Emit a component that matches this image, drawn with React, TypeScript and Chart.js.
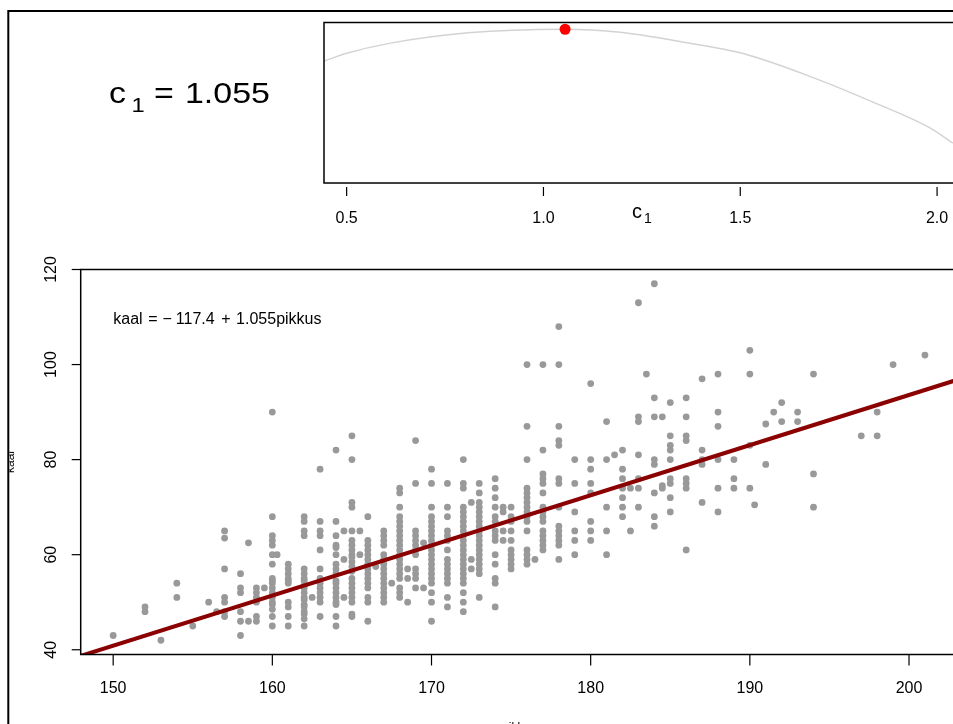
import React, { useEffect, useRef } from "react";
import { Chart, registerables } from "chart.js";

Chart.register(...registerables);

// ---------------- bottom panel data (pikkus = height, kaal = weight) ----------------
const pikkusLevels = [
  150, 152, 153, 154, 155, 156, 156.5, 157, 158, 158.5, 159, 159.5, 160, 160.3, 161, 162,
  162.5, 163, 164, 164.5, 165, 165.5, 166, 166.5, 167, 167.5, 168, 168.5, 169, 169.5, 170,
  171, 172, 172.5, 173, 174, 174.5, 175, 176, 176.5, 177, 178, 179, 180, 181, 181.5, 182,
  182.5, 183, 183.5, 184, 184.5, 185, 186, 187, 188, 189, 190, 190.3, 191, 191.5, 192, 193,
  194, 197, 198, 199, 201,
];
const kaalByPikkus: number[][] = [
  [43],
  [49, 48],
  [42],
  [54, 51],
  [45],
  [50],
  [48],
  [65, 63.5, 57, 51, 50, 48, 47],
  [56, 53, 52, 48, 46, 43],
  [62.5, 46],
  [53, 52, 51, 50, 47, 46],
  [53],
  [90, 68, 64, 63, 62, 60, 58, 55, 54.5, 54, 53, 52, 51, 50, 49.5, 48.5, 47, 45],
  [60],
  [58, 57, 56, 55, 54.5, 54, 50, 49, 47, 45],
  [68, 67, 65, 64, 57, 56, 55, 54.5, 53.5, 53, 52, 51, 50.5, 49.5, 49, 48, 47.5, 46.5, 45],
  [51],
  [78, 67, 65, 64, 61, 57, 55, 54, 53, 52, 51, 50, 47],
  [82, 67, 64, 62, 61.5, 60, 58, 57, 56, 54.5, 54, 53, 52, 51, 50, 49.5, 47, 45],
  [65, 59, 51],
  [85, 80, 71, 70, 65, 63, 62, 61, 60, 59.5, 58.5, 57.5, 56.5, 55, 54, 53, 52, 51, 50, 47.5, 47],
  [65, 60],
  [68, 63, 62, 61, 60, 59, 58, 57, 56, 55, 54, 53, 51, 50, 46],
  [57.5],
  [65, 64, 63, 62, 60, 59, 58, 57, 56, 55, 54, 53, 52, 51, 50],
  [54],
  [74, 73, 70, 68, 67, 66, 65, 64, 63, 62, 61, 60, 59, 58, 57, 56, 55, 53, 52, 51],
  [57, 55, 50],
  [84, 75, 65, 64, 63, 62, 61, 60, 57, 56, 55, 53],
  [62.5, 53],
  [78, 75, 70, 68, 67, 66, 65, 64, 63, 62, 61, 60, 59, 58, 57, 56, 55, 54, 52, 50, 46],
  [75, 70, 68, 65, 64, 63, 61, 59, 58, 57, 56, 55, 54, 51, 49],
  [80, 75, 74, 70, 69, 68, 67, 66, 65, 64, 63, 62, 61, 60, 59, 58, 57, 56, 55, 54, 52, 50, 48],
  [71, 59, 57],
  [75, 73, 71, 70, 69, 68, 67, 66, 65, 64, 63, 62, 61, 60, 59, 58, 57, 56, 51],
  [76, 74, 72, 70, 68, 67, 65, 64, 63, 60, 58, 55, 54, 49],
  [70, 69, 65, 63],
  [70, 68, 67, 65, 63, 61, 60, 59, 58, 57],
  [100, 87, 80, 74, 73, 72, 71, 70, 69, 68, 67, 65, 61, 60, 59, 58],
  [59],
  [100, 82, 77, 76, 75, 73, 70, 69, 68, 67, 65, 64, 63, 62, 61],
  [108, 100, 87, 84, 83, 76, 75, 70, 66, 65, 64, 63, 62, 59],
  [80, 75, 69, 65, 63, 60],
  [96, 80, 78, 75, 73, 67, 65, 63],
  [88, 80, 70, 65, 60],
  [81],
  [82, 78, 76, 74, 72, 70, 68],
  [74, 65],
  [113, 89, 88, 81, 76, 74, 70],
  [98],
  [117, 93, 89, 80, 79, 73, 68, 66],
  [89, 74.5, 74],
  [92, 85, 83, 82, 80, 76, 75, 72, 69],
  [93, 89, 85, 84, 76, 75, 74, 61],
  [97, 82, 80, 79, 71],
  [98, 90, 87, 80, 74, 69],
  [80, 76, 74],
  [103, 98, 83, 74],
  [70.5],
  [87.5, 79],
  [90],
  [92, 88],
  [90, 88],
  [98, 77, 70],
  [85],
  [90, 85],
  [100],
  [102],
];
const fitIntercept = -117.4;
const fitSlope = 1.055;
const pikkusRange = [147.96, 203.04];
const kaalRange = [39, 120];
const pikkusTicks = [150, 160, 170, 180, 190, 200];
const kaalTicks = [40, 60, 80, 100, 120];

// ---------------- top panel data (criterion as a function of c1) ----------------
const c1Grid = [0.443, 0.5, 0.608, 0.809, 1.055, 1.195, 1.35, 1.505, 1.69, 1.843, 1.982, 2.04];
const criterionValues = [76.0, 80.8, 87.0, 93.6, 95.8, 93.9, 88.0, 80.8, 65.2, 49.8, 34.3, 24.9];
const c1Best = 1.055;
const criterionBest = 95.8;
const c1Range = [0.4425, 2.0575];
const criterionRange = [0, 100];
const c1Ticks = [0.5, 1.0, 1.5, 2.0];
const c1TickLabels = ["0.5", "1.0", "1.5", "2.0"];

const FONT = '"Liberation Sans", Arial, Helvetica, sans-serif';
const CW = 980;
const CH = 724;
const TOP_H = 240;

function line(ctx: CanvasRenderingContext2D, x1: number, y1: number, x2: number, y2: number) {
  ctx.beginPath();
  ctx.moveTo(x1, y1);
  ctx.lineTo(x2, y2);
  ctx.stroke();
}

function textAt(ctx: CanvasRenderingContext2D, s: string, x: number, y: number, size: number, sx = 1) {
  ctx.save();
  ctx.font = `${size}px ${FONT}`;
  ctx.translate(x, y);
  ctx.scale(sx, 1);
  ctx.fillText(s, 0, 0);
  ctx.restore();
}

const bottomDecor = {
  id: "bottomDecor",
  afterDraw(chart: any) {
    const { ctx, chartArea: a } = chart;
    const xs = chart.scales.x;
    const ys = chart.scales.y;
    ctx.save();
    ctx.strokeStyle = "#000";
    ctx.fillStyle = "#000";
    // outer frame
    ctx.lineWidth = 2;
    ctx.strokeRect(8.3, 11, 2000, 2000);
    // plot box
    ctx.lineWidth = 1.5;
    ctx.strokeRect(a.left, a.top, a.right - a.left, a.bottom - a.top);
    // x ticks
    ctx.lineWidth = 1.2;
    ctx.font = `16px ${FONT}`;
    ctx.textAlign = "center";
    ctx.textBaseline = "middle";
    pikkusTicks.forEach((v) => {
      const px = xs.getPixelForValue(v);
      line(ctx, px, a.bottom, px, a.bottom + 11);
      ctx.fillText(String(v), px, 688.5);
    });
    // y ticks (labels parallel to axis)
    kaalTicks.forEach((v) => {
      const py = ys.getPixelForValue(v);
      line(ctx, a.left, py, a.left - 9, py);
      ctx.save();
      ctx.translate(52, py);
      ctx.rotate(-Math.PI / 2);
      ctx.fillText(String(v), 0, 0);
      ctx.restore();
    });
    // axis titles
    ctx.save();
    ctx.beginPath();
    ctx.rect(9.3, 0, 200, CH);
    ctx.clip();
    ctx.font = `12px ${FONT}`;
    ctx.translate(13.5, (a.top + a.bottom) / 2);
    ctx.rotate(-Math.PI / 2);
    ctx.textBaseline = "alphabetic";
    ctx.fillText("kaal", 0, 0);
    ctx.restore();
    ctx.font = `12px ${FONT}`;
    ctx.textBaseline = "alphabetic";
    ctx.fillText("pikkus", (a.left + a.right) / 2, 731);
    // fitted equation
    ctx.textAlign = "left";
    textAt(ctx, "kaal", 113.3, 324, 16);
    textAt(ctx, "=", 148.2, 324, 16);
    textAt(ctx, "\u2212", 162.5, 324, 16);
    textAt(ctx, "117.4", 175.8, 324, 16);
    textAt(ctx, "+", 221.3, 324, 16);
    textAt(ctx, "1.055pikkus", 236.1, 324, 16);
    ctx.restore();
  },
};

const topDecor = {
  id: "topDecor",
  afterDraw(chart: any) {
    const { ctx, chartArea: a } = chart;
    const xs = chart.scales.x;
    ctx.save();
    ctx.strokeStyle = "#000";
    ctx.fillStyle = "#000";
    ctx.lineWidth = 1.5;
    ctx.strokeRect(a.left, a.top, a.right - a.left, a.bottom - a.top);
    ctx.lineWidth = 1.2;
    ctx.font = `16px ${FONT}`;
    ctx.textAlign = "center";
    ctx.textBaseline = "middle";
    c1Ticks.forEach((v, i) => {
      const px = xs.getPixelForValue(v);
      line(ctx, px, a.bottom + 4, px, a.bottom + 13);
      ctx.fillText(c1TickLabels[i], px, 219);
    });
    // axis title c1
    ctx.textAlign = "left";
    ctx.textBaseline = "alphabetic";
    textAt(ctx, "c", 632, 218, 20);
    textAt(ctx, "1", 644, 223, 14);
    // big estimate label
    textAt(ctx, "c", 109, 103, 30, 1.13);
    textAt(ctx, "1", 131.5, 112, 21, 1.13);
    textAt(ctx, "=", 154, 103, 30, 1.13);
    textAt(ctx, "1.055", 185, 103, 30, 1.13);
    ctx.restore();
  },
};

export default function App() {
  const bottomRef = useRef<HTMLCanvasElement>(null);
  const topRef = useRef<HTMLCanvasElement>(null);

  useEffect(() => {
    const points: { x: number; y: number }[] = [];
    pikkusLevels.forEach((p, i) => {
      kaalByPikkus[i].forEach((k) => points.push({ x: p, y: k }));
    });
    const fitLine = pikkusRange.map((p) => ({ x: p, y: fitIntercept + fitSlope * p }));

    const bottom = new Chart(bottomRef.current as HTMLCanvasElement, {
      type: "scatter",
      data: {
        datasets: [
          {
            label: "fit",
            data: fitLine,
            showLine: true,
            borderColor: "#8B0000",
            borderWidth: 4,
            pointRadius: 0,
            clip: 0,
            order: 0,
          } as any,
          {
            label: "kaal",
            data: points,
            pointRadius: 3.4,
            pointBackgroundColor: "#999999",
            pointBorderWidth: 0,
            borderWidth: 0,
            order: 1,
          } as any,
        ],
      },
      options: {
        responsive: false,
        animation: false,
        devicePixelRatio: 1,
        events: [],
        layout: { padding: { left: 80.7, top: 269.5, right: CW - 957.4, bottom: CH - 654.5 } },
        plugins: { legend: { display: false }, tooltip: { enabled: false } },
        scales: {
          x: { type: "linear", display: false, min: pikkusRange[0], max: pikkusRange[1] },
          y: { type: "linear", display: false, min: kaalRange[0], max: kaalRange[1] },
        },
      },
      plugins: [bottomDecor],
    });

    const curve = c1Grid.map((c, i) => ({ x: c, y: criterionValues[i] }));
    const top = new Chart(topRef.current as HTMLCanvasElement, {
      type: "scatter",
      data: {
        datasets: [
          {
            label: "best",
            data: [{ x: c1Best, y: criterionBest }],
            pointRadius: 5.5,
            pointBackgroundColor: "#ff0000",
            pointBorderWidth: 0,
            borderWidth: 0,
            order: 0,
          } as any,
          {
            label: "criterion",
            data: curve,
            showLine: true,
            borderColor: "#d3d3d3",
            borderWidth: 1.5,
            pointRadius: 0,
            cubicInterpolationMode: "monotone",
            clip: 0,
            order: 1,
          } as any,
        ],
      },
      options: {
        responsive: false,
        animation: false,
        devicePixelRatio: 1,
        events: [],
        layout: { padding: { left: 324, top: 22.5, right: CW - 959.7, bottom: TOP_H - 183 } },
        plugins: { legend: { display: false }, tooltip: { enabled: false } },
        scales: {
          x: { type: "linear", display: false, min: c1Range[0], max: c1Range[1] },
          y: { type: "linear", display: false, min: criterionRange[0], max: criterionRange[1] },
        },
      },
      plugins: [topDecor],
    });

    return () => {
      bottom.destroy();
      top.destroy();
    };
  }, []);

  return (
    <div
      style={{
        position: "fixed",
        left: 0,
        top: 0,
        width: 953,
        height: 724,
        overflow: "hidden",
        background: "#fff",
      }}
    >
      <canvas
        ref={bottomRef}
        width={CW}
        height={CH}
        style={{ position: "absolute", left: 0, top: 0, width: CW, height: CH }}
      />
      <canvas
        ref={topRef}
        width={CW}
        height={TOP_H}
        style={{ position: "absolute", left: 0, top: 0, width: CW, height: TOP_H }}
      />
    </div>
  );
}
